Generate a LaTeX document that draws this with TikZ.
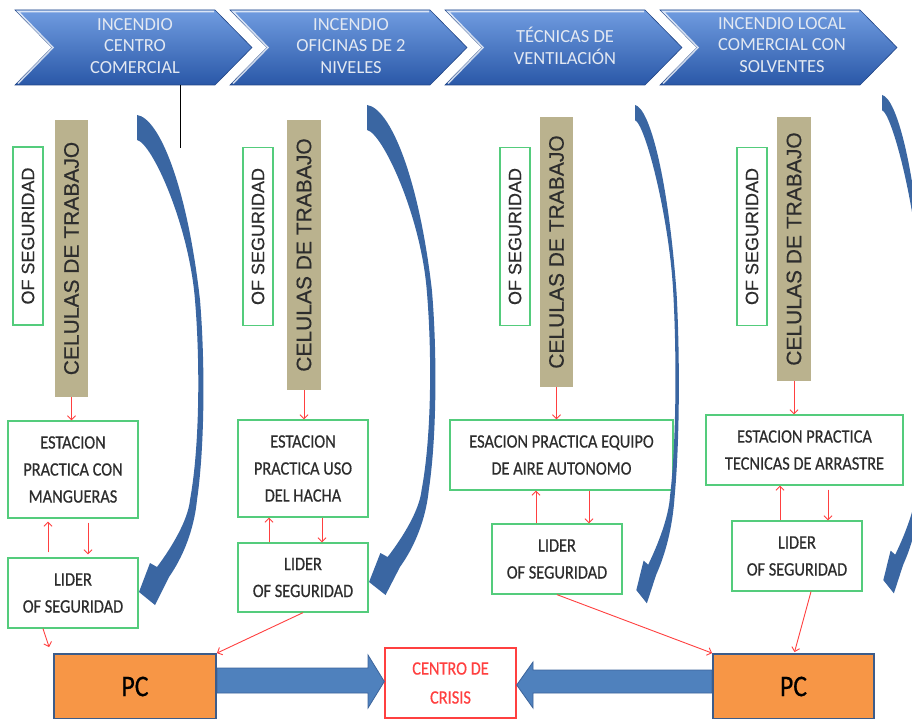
\documentclass[tikz,border=0pt]{standalone}
\usepackage{fontspec}
\setmainfont{Carlito}
\newfontfamily\narrowfont[FakeStretch=0.86,FakeBold=0.5]{Carlito}
\newfontfamily\arialfont[FakeBold=0.3]{Liberation Sans}
\usetikzlibrary{arrows.meta,calc}
\definecolor{chevtop}{RGB}{112,156,224}
\definecolor{chevbot}{RGB}{42,88,168}
\definecolor{chevtxt}{RGB}{226,232,242}
\definecolor{boxgreen}{RGB}{84,204,124}
\definecolor{boxtxt}{RGB}{45,45,45}
\definecolor{celtan}{RGB}{186,178,142}
\definecolor{arrred}{RGB}{255,64,64}
\definecolor{arcblue}{RGB}{58,102,162}
\definecolor{blkblue}{RGB}{79,129,189}
\definecolor{blkline}{RGB}{60,100,155}
\definecolor{pcorange}{RGB}{247,150,70}
\definecolor{pcline}{RGB}{60,92,138}

\newcommand\bluearc[5]{%
  \fill[arcblue,shift={(#1,#2)},xscale=#3,yscale=#4]
   (0,0) .. controls (22,3) and (50,70) .. (63,185)
   .. controls (68,245) and (68,330) .. (60,385)
   .. controls (57,415) and (46,442) .. (32,462)
   -- (18,490) -- (2,477) -- (13,448) -- (20,452)
   .. controls (35,432) and (51,405) .. (53,385)
   .. controls (63,330) and (63,245) .. (58,185)
   .. controls (52,110) and (15,{#5+3}) .. (0,#5) -- cycle;}

\begin{document}
\begin{tikzpicture}[x=1pt,y=-1pt,
  chevshade/.style={top color=chevtop, bottom color=chevbot, draw=chevbot!80!black, line width=0.6pt},
  chevhl/.style={draw=white, opacity=0.75, line width=1.6pt},
  chevtext/.style={text=chevtxt, align=center, inner sep=0pt, font=\fontsize{18.5}{21.7}\selectfont},
  greenbox/.style={draw=boxgreen, line width=1.3pt, fill=white, inner sep=0pt, align=center, text=boxtxt, font=\narrowfont\fontsize{19}{27}\selectfont},
  ofbox/.style={draw=boxgreen, line width=1.3pt, fill=white, inner sep=0pt, minimum width=30pt, minimum height=178pt, text=boxtxt, font=\arialfont\fontsize{18}{20}\selectfont},
  celbox/.style={fill=celtan, inner sep=0pt, minimum width=33pt, text=boxtxt, font=\arialfont\fontsize{21}{24}\selectfont},
  redarr/.style={draw=arrred, line width=0.9pt, -{Straight Barb[length=4pt,width=8pt]}},
  pcbox/.style={fill=pcorange, draw=pcline, line width=1.8pt, inner sep=0pt, minimum width=161pt, minimum height=65pt, font=\narrowfont\fontsize{30}{30}\selectfont},
  blockarr/.style={fill=blkblue, draw=blkline, line width=0.8pt}
]
\useasboundingbox (0,0) rectangle (912,719);
\fill[white] (0,0) rectangle (912,719);

% chevrons
\foreach \L in {15,230,445,660} {
  \path[chevshade] (\L,10) -- ++(200,0) -- ++(37,37.5) -- ++(-37,37.5) -- ++(-200,0) -- ++(37,-37.5) -- cycle;
  \draw[chevhl] (\L+3,83.5) -- (\L+38,47.5) -- (\L+3,11.5) -- (\L+199,11.5);
}
\node[chevtext] (ch1) at (135,46) {INCENDIO\\CENTRO\\COMERCIAL};
\node[chevtext] (ch2) at (351,46) {INCENDIO\\OFICINAS DE 2\\NIVELES};
\node[chevtext] (ch3) at (565,46) {TÉCNICAS DE\\VENTILACIÓN};
\node[chevtext] (ch4) at (782,45) {INCENDIO LOCAL\\COMERCIAL CON\\SOLVENTES};

% thin black line
\coordinate (blkT) at (180,85);
\coordinate (blkB) at (180,148);
\draw[black, line width=1pt] (blkT) -- (blkB);

% column 1
\node[ofbox] (of1) at (28,236) {\rotatebox{90}{OF SEGURIDAD}};
\node[celbox, minimum height=277pt] (cel1) at (71.5,258.5) {\rotatebox{90}{CELULAS DE TRABAJO}};
\node[greenbox, minimum width=130pt, minimum height=97pt] (est1) at (73,469.5) {ESTACION\\PRACTICA CON\\MANGUERAS};
\node[greenbox, minimum width=130pt, minimum height=70pt] (lid1) at (73,593) {LIDER\\OF SEGURIDAD};

% column 2
\node[ofbox] (of2) at (258,236.5) {\rotatebox{90}{OF SEGURIDAD}};
\node[celbox, minimum width=34pt, minimum height=270pt] (cel2) at (304,255) {\rotatebox{90}{CELULAS DE TRABAJO}};
\node[greenbox, minimum width=130pt, minimum height=97pt] (est2) at (303,468.5) {ESTACION\\PRACTICA USO\\DEL HACHA};
\node[greenbox, minimum width=130pt, minimum height=69pt] (lid2) at (303,577.5) {LIDER\\OF SEGURIDAD};

% column 3
\node[ofbox] (of3) at (515,236.5) {\rotatebox{90}{OF SEGURIDAD}};
\node[celbox, minimum height=270pt] (cel3) at (556.5,252) {\rotatebox{90}{CELULAS DE TRABAJO}};
\node[greenbox, minimum width=223pt, minimum height=70pt] (est3) at (561.5,455) {ESACION PRACTICA EQUIPO\\DE AIRE AUTONOMO};
\node[greenbox, minimum width=130pt, minimum height=70pt] (lid3) at (557,559) {LIDER\\OF SEGURIDAD};

% column 4
\node[ofbox] (of4) at (752,236.5) {\rotatebox{90}{OF SEGURIDAD}};
\node[celbox, minimum width=34pt, minimum height=264pt] (cel4) at (794,249) {\rotatebox{90}{CELULAS DE TRABAJO}};
\node[greenbox, minimum width=197pt, minimum height=70pt] (est4) at (804.5,450) {ESTACION PRACTICA\\TECNICAS DE ARRASTRE};
\node[greenbox, minimum width=130pt, minimum height=70pt] (lid4) at (797,556) {LIDER\\OF SEGURIDAD};

% bottom row
\node[pcbox, minimum width=162pt] (pc1) at (135,686.5) {PC};
\node[pcbox] (pc2) at (793.5,686.5) {PC};
\node[draw=arrred, line width=1.4pt, fill=white, inner sep=0pt, minimum width=131pt, minimum height=70pt, align=center, text=arrred, font=\narrowfont\fontsize{19}{29}\selectfont] (centro) at (450.5,683) {CENTRO DE\\CRISIS};

% red arrows: celulas -> estacion
\draw[redarr] (cel1.south) -- (cel1.south |- est1.north);
\draw[redarr] (cel2.south) -- (cel2.south |- est2.north);
\draw[redarr] (cel3.south) -- (cel3.south |- est3.north);
\draw[redarr] (cel4.south) -- (cel4.south |- est4.north);

% red arrows between estacion and lider
\coordinate (u1) at ($(lid1.north)+(-25,0)$);
\coordinate (d1) at ($(lid1.north)+(15,0)$);
\coordinate (u2) at ($(lid2.north)+(-34,0)$);
\coordinate (d2) at ($(lid2.north)+(19,0)$);
\coordinate (u3) at ($(lid3.north)+(-21,0)$);
\coordinate (d3) at ($(lid3.north)+(32,0)$);
\coordinate (u4) at ($(lid4.north)+(-17,0)$);
\coordinate (d4) at ($(lid4.north)+(31,0)$);
\draw[redarr, shorten <=5pt, shorten >=3pt] (u1) -- (u1 |- est1.south);
\draw[redarr, shorten <=4pt, shorten >=3pt] (d1 |- est1.south) -- (d1);
\draw[redarr] (u2) -- (u2 |- est2.south);
\draw[redarr] (d2 |- est2.south) -- (d2);
\draw[redarr] (u3) -- (u3 |- est3.south);
\draw[redarr] (d3 |- est3.south) -- (d3);
\draw[redarr] (u4) -- (u4 |- est4.south);
\draw[redarr, shorten <=4pt] (d4 |- est4.south) -- (d4);

% red arrows lider -> PC
\coordinate (l1s) at ($(lid1.south)+(-30,0)$);
\coordinate (p1t) at ($(pc1.north west)+(-4,-6)$);
\coordinate (l4s) at ($(lid4.south)+(14,0)$);
\coordinate (p2t) at ($(pc2.north)+(1,-1)$);
\draw[redarr] (l1s) -- (p1t);
\draw[redarr] (lid2.south) -- (pc1.north east);
\draw[redarr] (lid3.south) -- (pc2.north west);
\draw[redarr] (l4s) -- (p2t);

% block arrows
\path[blockarr] (pc1.east |- 0,668) -- (368,668) -- (368,655) -- (centro.west |- 0,681.5) -- (368,708) -- (368,693) -- (pc1.east |- 0,693) -- cycle;
\path[blockarr] (pc2.west |- 0,670) -- (533,670) -- (533,662) -- (centro.east |- 0,685) -- (533,708) -- (533,693) -- (pc2.west |- 0,693) -- cycle;
\node[pcbox, minimum width=162pt] (pc1b) at (pc1) {PC};
\node[pcbox] (pc2b) at (pc2) {PC};

% curved blue arrows
\bluearc{137}{115}{1}{1}{25}
\bluearc{367}{105}{1.03}{1}{25}
\bluearc{635}{105}{0.66}{1.017}{15}
\bluearc{882}{95}{0.66}{1.017}{15}
\end{tikzpicture}
\end{document}
